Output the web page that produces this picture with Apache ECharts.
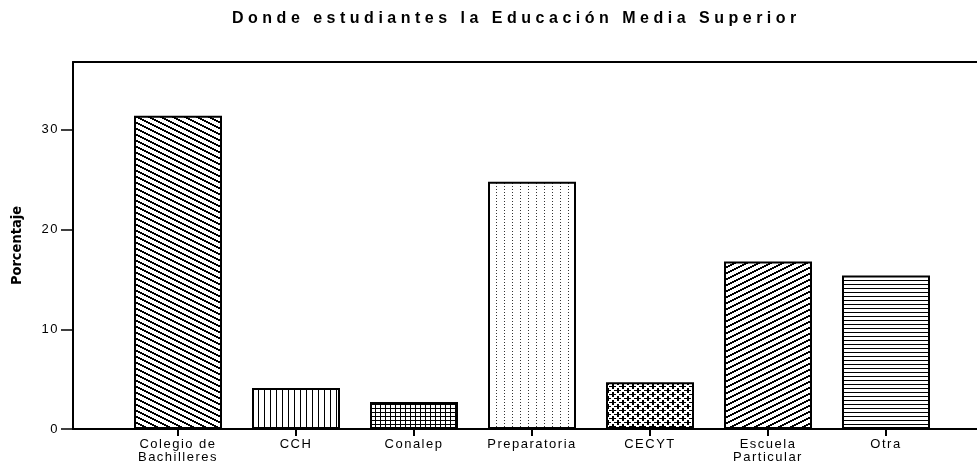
<!DOCTYPE html>
<html>
<head>
<meta charset="utf-8">
<script src="https://cdn.jsdelivr.net/npm/echarts@6/dist/echarts.min.js"></script>
<style>html,body{margin:0;padding:0;background:#fff;}#c{width:977px;height:461px;}</style>
</head>
<body>
<div id="c"></div>
<script>
const titleText = 'Donde estudiantes la Educación Media Superior';
const categories = ['Colegio de\nBachilleres', 'CCH', 'Conalep', 'Preparatoria', 'CECYT', 'Escuela\nParticular', 'Otra'];
const values = [31.4, 4.1, 2.7, 24.8, 4.7, 16.8, 15.4];
const yTicks = [0, 10, 20, 30];
const yName = 'Porcentaje';
const patternNames = ['back', 'vert', 'grid', 'dots', 'plus', 'fwd', 'horiz'];

// wide letter spacing as in the reference's text
(function () {
  const proto = CanvasRenderingContext2D.prototype;
  const orig = proto.fillText;
  proto.fillText = function (t, x, y, m) {
    const f = this.font || '';
    let ls = '0px';
    if (/Condensed/.test(f)) ls = '0px';
    else if (/bold/.test(f) && /16px/.test(f)) ls = '4.5px';
    else if (/13px/.test(f)) ls = '1.5px';
    if ('letterSpacing' in this) this.letterSpacing = ls;
    return m === undefined ? orig.call(this, t, x, y) : orig.call(this, t, x, y, m);
  };
})();

function makePattern(w, h, color, cells) {
  const c = document.createElement('canvas');
  c.width = w; c.height = h;
  const ctx = c.getContext('2d');
  ctx.fillStyle = '#fff';
  ctx.fillRect(0, 0, w, h);
  ctx.fillStyle = color;
  const px = (x, y) => ctx.fillRect(((x % w) + w) % w, ((y % h) + h) % h, 1, 1);
  cells(px);
  return { image: c, repeat: 'repeat' };
}
const patterns = {
  back: makePattern(12, 6, '#000', px => { for (let x = 0; x < 12; x++) { const y = Math.floor(x / 2); px(x, y); px(x, y + 1); } }),
  fwd: makePattern(12, 6, '#000', px => { for (let x = 0; x < 12; x++) { const y = 5 - Math.floor(x / 2); px(x, y); px(x, y + 1); } }),
  vert: makePattern(6, 1, '#000', px => { px(0, 0); }),
  grid: makePattern(5, 4, '#000', px => { for (let y = 0; y < 4; y++) px(0, y); for (let x = 0; x < 5; x++) px(x, 0); }),
  dots: makePattern(8, 3, '#333', px => { px(0, 0); }),
  plus: makePattern(10, 8, '#000', px => {
    for (let i = -3; i <= 3; i++) { px(2 + i, 2); px(7 + i, 6); }
    for (let i = -2; i <= 2; i++) { px(2, 2 + i); px(3, 2 + i); px(7, 6 + i); px(8, 6 + i); }
  }),
  horiz: makePattern(1, 4, '#000', px => { px(0, 0); })
};

const FONT = 'Liberation Sans, Arial, sans-serif';
const chart = echarts.init(document.getElementById('c'), null, { renderer: 'canvas' });
const yMax = 36.8;

chart.setOption({
  animation: false,
  backgroundColor: '#fff',
  title: {
    text: titleText,
    left: 227,
    top: 6,
    textStyle: { fontFamily: FONT, fontSize: 16, fontWeight: 'bold', color: '#000' }
  },
  grid: [
    { left: 73, right: 0, top: 62, bottom: 32, outerBoundsMode: 'none', containLabel: false },
    { left: 119, width: 826, top: 62, bottom: 32, outerBoundsMode: 'none', containLabel: false }
  ],
  xAxis: [
    { gridIndex: 0, type: 'value', position: 'bottom', min: 0, max: 1,
      axisLine: { show: true, lineStyle: { color: '#000', width: 2 } },
      axisTick: { show: false }, axisLabel: { show: false }, splitLine: { show: false } },
    { gridIndex: 0, type: 'value', position: 'top', min: 0, max: 1,
      axisLine: { show: true, lineStyle: { color: '#000', width: 2 } },
      axisTick: { show: false }, axisLabel: { show: false }, splitLine: { show: false } },
    { gridIndex: 1, type: 'category', data: categories, position: 'bottom',
      axisLine: { show: false },
      axisTick: { show: true, alignWithLabel: true, length: 7, lineStyle: { color: '#000', width: 2 } },
      axisLabel: { color: '#000', fontFamily: FONT, fontSize: 13, lineHeight: 13, margin: 9, interval: 0 },
      splitLine: { show: false } }
  ],
  yAxis: [
    { gridIndex: 0, type: 'value', min: 0, max: yMax, interval: 10,
      name: yName, nameLocation: 'middle', nameGap: 48, nameRotate: 90,
      nameTextStyle: { fontFamily: 'DejaVu Sans Condensed, Liberation Sans Narrow, sans-serif', fontSize: 14.5, fontWeight: 'bold', color: '#000' },
      axisLine: { show: true, lineStyle: { color: '#000', width: 2 } },
      axisTick: { show: true, length: 12, customValues: yTicks, lineStyle: { color: '#000', width: 1.5 } },
      axisLabel: { color: '#000', fontFamily: FONT, fontSize: 13, margin: 14, customValues: yTicks },
      splitLine: { show: false } },
    { gridIndex: 1, type: 'value', min: 0, max: yMax, interval: 10, show: false, splitLine: { show: false } }
  ],
  series: [{
    type: 'bar',
    xAxisIndex: 2,
    yAxisIndex: 1,
    barWidth: 88,
    data: values.map((v, i) => ({
      value: v,
      itemStyle: { color: patterns[patternNames[i]], borderColor: '#000', borderWidth: 2 }
    }))
  }]
});
</script>
</body>
</html>
